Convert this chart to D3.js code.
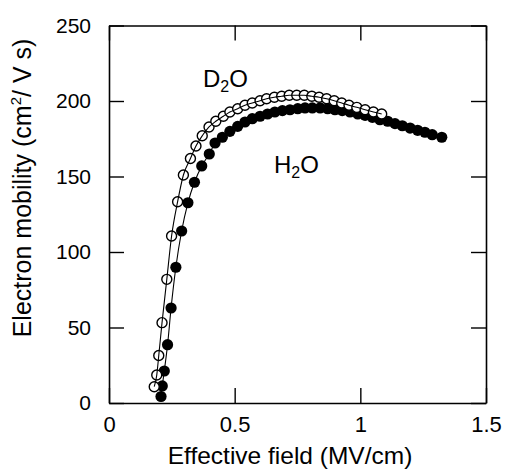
<!DOCTYPE html>
<html><head><meta charset="utf-8">
<script src="https://cdn.jsdelivr.net/npm/d3@7"></script>
<style>
html,body{margin:0;padding:0;background:#fff;}
svg text{font-family:"Liberation Sans",Arial,sans-serif;fill:#000;}
</style></head>
<body><svg id="c" width="506" height="471"></svg>
<script>
// Data
const h2oField = [0.207,0.212,0.220,0.233,0.247,0.266,0.289,0.314,0.340,0.369,0.399,0.422,0.451,0.481,0.512,0.541,0.570,0.601,0.631,0.660,0.690,0.720,0.751,0.780,0.809,0.840,0.870,0.899,0.928,0.959,0.990,1.019,1.048,1.078,1.109,1.138,1.167,1.198,1.228,1.257,1.286,1.324];
const h2oMobility = [4.3,11.3,21.2,38.6,62.9,89.9,113.9,132.6,146.2,157.0,164.9,172.2,176.0,179.9,183.2,186.1,188.3,189.9,191.4,192.7,193.6,194.2,194.9,195.4,195.4,195.4,194.9,194.2,193.6,192.7,191.4,190.5,189.2,187.6,186.6,185.0,183.6,182.1,180.6,179.3,177.7,176.0];
const d2oField = [0.180,0.190,0.198,0.211,0.230,0.249,0.273,0.296,0.324,0.346,0.371,0.398,0.425,0.455,0.481,0.512,0.541,0.570,0.601,0.627,0.658,0.687,0.717,0.747,0.777,0.807,0.836,0.866,0.896,0.926,0.955,0.986,1.019,1.052,1.085];
const d2oMobility = [10.8,18.5,31.5,53.2,81.9,110.6,133.3,151.0,161.9,170.2,177.0,182.8,186.6,189.9,192.7,194.9,197.2,198.7,200.2,201.5,202.5,203.1,203.8,203.8,203.8,203.1,202.5,201.5,200.2,198.7,197.2,195.8,194.2,192.7,191.4];
const xTicks = [0,0.5,1,1.5];
const xTickLabels = ["0","0.5","1","1.5"];
const yTicks = [0,50,100,150,200,250];
const yTickLabels = ["0","50","100","150","200","250"];

const svg = d3.select("#c");
const x = d3.scaleLinear().domain([0,1.5]).range([109,486]);
const y = d3.scaleLinear().domain([0,250]).range([403,25.5]);

const h2o = h2oField.map((f,i)=>({x:f,y:h2oMobility[i]}));
const d2o = d2oField.map((f,i)=>({x:f,y:d2oMobility[i]}));

const line = d3.line().x(d=>x(d.x)).y(d=>y(d.y)).curve(d3.curveMonotoneX);

// H2O line + filled markers
svg.append("path").datum(h2o).attr("d",line).attr("fill","none").attr("stroke","#000").attr("stroke-width",1.1);
svg.append("g").selectAll("circle").data(h2o).join("circle")
  .attr("cx",d=>x(d.x)).attr("cy",d=>y(d.y)).attr("r",5.6).attr("fill","#000");

// D2O open markers + line
svg.append("g").selectAll("circle").data(d2o).join("circle")
  .attr("cx",d=>x(d.x)).attr("cy",d=>y(d.y)).attr("r",5.0)
  .attr("fill","#fff").attr("stroke","#000").attr("stroke-width",1.4);
svg.append("path").datum(d2o).attr("d",line).attr("fill","none").attr("stroke","#000").attr("stroke-width",1.1);

// Axes (inward ticks on all sides)
const tl = 15;
const gB = svg.append("g").attr("transform",`translate(0,${y(0)})`)
  .call(d3.axisBottom(x).tickValues(xTicks).tickFormat((d,i)=>xTickLabels[i]).tickSizeInner(-tl).tickSizeOuter(0).tickPadding(13));
const gT = svg.append("g").attr("transform",`translate(0,${y(250)})`)
  .call(d3.axisTop(x).tickValues(xTicks).tickFormat("").tickSizeInner(-tl).tickSizeOuter(0));
const gL = svg.append("g").attr("transform",`translate(${x(0)},0)`)
  .call(d3.axisLeft(y).tickValues(yTicks).tickFormat((d,i)=>yTickLabels[i]).tickSizeInner(-tl).tickSizeOuter(0).tickPadding(18));
const gR = svg.append("g").attr("transform",`translate(${x(1.5)},0)`)
  .call(d3.axisRight(y).tickValues(yTicks).tickFormat("").tickSizeInner(-tl).tickSizeOuter(0));
[gB,gT,gL,gR].forEach(g=>{
  g.selectAll(".domain").attr("stroke","#000").attr("stroke-width",1.6);
  g.selectAll(".tick line").attr("stroke","#000").attr("stroke-width",1.4);
});
gB.selectAll("text").attr("font-size",22).attr("font-family","Liberation Sans, Arial, sans-serif").attr("fill","#000");
gL.selectAll("text").attr("font-size",21).attr("font-family","Liberation Sans, Arial, sans-serif").attr("fill","#000");

// Axis titles
svg.append("text").attr("x",290).attr("y",464).attr("text-anchor","middle").attr("font-size",24.5)
  .text("Effective field (MV/cm)");
const yt = svg.append("text").attr("transform","translate(31,188) rotate(-90)").attr("text-anchor","middle").attr("font-size",25);
yt.append("tspan").text("Electron mobility (cm");
yt.append("tspan").attr("font-size",15).attr("dy",-10).text("2");
yt.append("tspan").attr("dy",10).text("/ V s)");

// Series labels
const dl = svg.append("text").attr("x",203).attr("y",87).attr("font-size",24);
dl.append("tspan").text("D");
dl.append("tspan").attr("font-size",16).attr("dy",5).text("2");
dl.append("tspan").attr("dy",-5).text("O");
const hl = svg.append("text").attr("x",274).attr("y",173).attr("font-size",24);
hl.append("tspan").text("H");
hl.append("tspan").attr("font-size",16).attr("dy",5).text("2");
hl.append("tspan").attr("dy",-5).text("O");
</script></body></html>
